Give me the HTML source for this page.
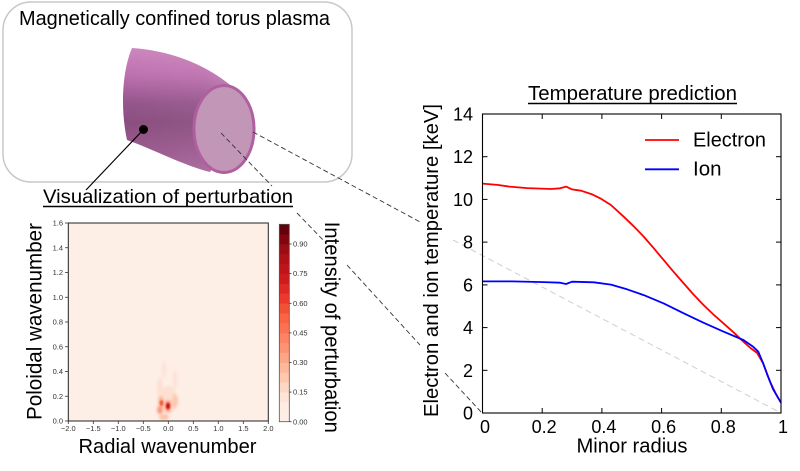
<!DOCTYPE html>
<html><head><meta charset="utf-8"><style>
html,body{margin:0;padding:0;background:#fff;}
svg{display:block;font-family:"Liberation Sans",Arial,sans-serif;}
</style></head><body>
<svg width="800" height="471" viewBox="0 0 800 471" xmlns="http://www.w3.org/2000/svg">
<defs>
<linearGradient id="body" x1="0" y1="48" x2="0" y2="172" gradientUnits="userSpaceOnUse">
<stop offset="0" stop-color="#cc86bd"/>
<stop offset="0.22" stop-color="#bd70ae"/>
<stop offset="0.45" stop-color="#93558a"/>
<stop offset="0.6" stop-color="#8a4e7e"/>
<stop offset="0.85" stop-color="#9c5a8f"/>
<stop offset="1" stop-color="#a8669b"/>
</linearGradient>
<linearGradient id="bodyH" x1="120" y1="0" x2="240" y2="0" gradientUnits="userSpaceOnUse">
<stop offset="0" stop-color="#ffffff" stop-opacity="0"/>
<stop offset="0.7" stop-color="#ffffff" stop-opacity="0.05"/>
<stop offset="1" stop-color="#ffffff" stop-opacity="0.18"/>
</linearGradient>
<filter id="bl" x="-50%" y="-50%" width="200%" height="200%"><feGaussianBlur stdDeviation="1.4"/></filter>
<filter id="bl2" x="-50%" y="-50%" width="200%" height="200%"><feGaussianBlur stdDeviation="0.8"/></filter>
<clipPath id="hm"><rect x="68.3" y="223" width="200" height="198"/></clipPath>
</defs>

<!-- Rounded box -->
<rect x="3" y="2" width="349" height="180" rx="28" ry="28" fill="none" stroke="#c8c8c8" stroke-width="1.5"/>
<text x="19" y="25" font-size="20" textLength="311" lengthAdjust="spacingAndGlyphs">Magnetically confined torus plasma</text>

<!-- Torus -->
<path d="M132,48 C165,50 205,62 236,90 L232,140 L210,172 C185,166 150,148 127,140 C121,112 121,74 132,48 Z" fill="url(#body)"/>
<path d="M132,48 C165,50 205,62 236,90 L232,140 L210,172 C185,166 150,148 127,140 C121,112 121,74 132,48 Z" fill="url(#bodyH)"/>
<ellipse cx="224" cy="129" rx="30" ry="43.5" fill="#c296b7" stroke="#b0609f" stroke-width="3"/>
<circle cx="143.5" cy="129.5" r="4.5" fill="#000"/>
<line x1="143.5" y1="129.5" x2="86" y2="190" stroke="#000" stroke-width="1.2"/>

<!-- dashed connectors -->
<g stroke="#333" stroke-width="0.9" stroke-dasharray="5,3" fill="none">
<line x1="221" y1="133" x2="272" y2="186"/>
<line x1="297" y1="213" x2="325" y2="242"/>
<line x1="347" y1="265" x2="420" y2="345"/>
<line x1="445" y1="373" x2="482" y2="413"/>
<line x1="253" y1="132" x2="422" y2="223"/>
</g>
<line x1="453" y1="240" x2="781" y2="413" stroke="#cfcfcf" stroke-width="1" stroke-dasharray="6,4"/>

<!-- Visualization title -->
<text x="43" y="203" font-size="19.5" textLength="250" lengthAdjust="spacingAndGlyphs">Visualization of perturbation</text>
<line x1="43" y1="206.5" x2="293" y2="206.5" stroke="#000" stroke-width="1.4"/>

<!-- Heatmap -->
<rect x="68.3" y="223" width="200" height="198" fill="#fdeee6"/>
<g clip-path="url(#hm)">
<g filter="url(#bl)">
<ellipse cx="164" cy="370" rx="2" ry="9" fill="#fde3d7"/>
<ellipse cx="175" cy="380" rx="2.5" ry="10" fill="#fde3d7"/>
<ellipse cx="160" cy="388" rx="3" ry="10" fill="#fde0d2"/>
<ellipse cx="168" cy="400" rx="9" ry="14" fill="#fde0d2"/>
<ellipse cx="161" cy="402" rx="3" ry="6" fill="#fcb79d"/>
<ellipse cx="175" cy="401" rx="3" ry="7" fill="#fcc7b1"/>
<ellipse cx="160" cy="410" rx="3" ry="4" fill="#fc9a7a"/>
<ellipse cx="168" cy="406" rx="3.5" ry="6" fill="#fc9272"/>
<ellipse cx="164" cy="417" rx="5" ry="3" fill="#fcc2aa"/>
</g>
<g filter="url(#bl2)">
<ellipse cx="161.5" cy="403" rx="1.8" ry="3" fill="#f4593e"/>
<ellipse cx="168" cy="406" rx="2" ry="3.2" fill="#c8161c"/>
</g>
</g>
<rect x="68.3" y="223" width="200" height="198" fill="none" stroke="#222" stroke-width="1"/>
<g stroke="#333" stroke-width="0.8">
<line x1="65" y1="421" x2="68.3" y2="421"/><line x1="65" y1="396.25" x2="68.3" y2="396.25"/>
<line x1="65" y1="371.5" x2="68.3" y2="371.5"/><line x1="65" y1="346.75" x2="68.3" y2="346.75"/>
<line x1="65" y1="322" x2="68.3" y2="322"/><line x1="65" y1="297.25" x2="68.3" y2="297.25"/>
<line x1="65" y1="272.5" x2="68.3" y2="272.5"/><line x1="65" y1="247.75" x2="68.3" y2="247.75"/>
<line x1="65" y1="223" x2="68.3" y2="223"/>
<line x1="68.3" y1="421" x2="68.3" y2="424"/><line x1="93.3" y1="421" x2="93.3" y2="424"/>
<line x1="118.3" y1="421" x2="118.3" y2="424"/><line x1="143.3" y1="421" x2="143.3" y2="424"/>
<line x1="168.3" y1="421" x2="168.3" y2="424"/><line x1="193.3" y1="421" x2="193.3" y2="424"/>
<line x1="218.3" y1="421" x2="218.3" y2="424"/><line x1="243.3" y1="421" x2="243.3" y2="424"/>
<line x1="268.3" y1="421" x2="268.3" y2="424"/>
</g>
<g font-size="7.5" fill="#333" text-anchor="end">
<text x="63" y="423.6">0.0</text><text x="63" y="398.9">0.2</text><text x="63" y="374.1">0.4</text>
<text x="63" y="349.4">0.6</text><text x="63" y="324.6">0.8</text><text x="63" y="299.9">1.0</text>
<text x="63" y="275.1">1.2</text><text x="63" y="250.4">1.4</text><text x="63" y="225.6">1.6</text>
</g>
<g font-size="7.5" fill="#333" text-anchor="middle">
<text x="68.3" y="431">−2.0</text><text x="93.3" y="431">−1.5</text><text x="118.3" y="431">−1.0</text>
<text x="143.3" y="431">−0.5</text><text x="168.3" y="431">0.0</text><text x="193.3" y="431">0.5</text>
<text x="218.3" y="431">1.0</text><text x="243.3" y="431">1.5</text><text x="268.3" y="431">2.0</text>
</g>
<text transform="translate(41.5,321.5) rotate(-90)" font-size="21" text-anchor="middle" textLength="197" lengthAdjust="spacingAndGlyphs">Poloidal wavenumber</text>
<text x="167.5" y="453" font-size="20" text-anchor="middle" textLength="178" lengthAdjust="spacingAndGlyphs">Radial wavenumber</text>

<!-- Colorbar -->
<g>
<rect x="279.3" y="411.83" width="10" height="10.2" fill="#fdeee6"/>
<rect x="279.3" y="401.96" width="10" height="10.2" fill="#ffece3"/>
<rect x="279.3" y="392.09" width="10" height="10.2" fill="#fee3d7"/>
<rect x="279.3" y="382.22" width="10" height="10.2" fill="#fed6c5"/>
<rect x="279.3" y="372.35" width="10" height="10.2" fill="#fdc8ae"/>
<rect x="279.3" y="362.48" width="10" height="10.2" fill="#fcb79d"/>
<rect x="279.3" y="352.61" width="10" height="10.2" fill="#fca587"/>
<rect x="279.3" y="342.74" width="10" height="10.2" fill="#fc9474"/>
<rect x="279.3" y="332.87" width="10" height="10.2" fill="#fc8363"/>
<rect x="279.3" y="323.00" width="10" height="10.2" fill="#fb7252"/>
<rect x="279.3" y="313.13" width="10" height="10.2" fill="#f86444"/>
<rect x="279.3" y="303.26" width="10" height="10.2" fill="#f35137"/>
<rect x="279.3" y="293.39" width="10" height="10.2" fill="#ed392b"/>
<rect x="279.3" y="283.52" width="10" height="10.2" fill="#dd2a25"/>
<rect x="279.3" y="273.65" width="10" height="10.2" fill="#cd1b1f"/>
<rect x="279.3" y="263.78" width="10" height="10.2" fill="#bf151a"/>
<rect x="279.3" y="253.91" width="10" height="10.2" fill="#af1117"/>
<rect x="279.3" y="244.04" width="10" height="10.2" fill="#9b0d14"/>
<rect x="279.3" y="234.17" width="10" height="10.2" fill="#810610"/>
<rect x="279.3" y="224.3" width="10" height="10.2" fill="#67000d"/>
</g>
<rect x="279.3" y="224.3" width="10" height="197.4" fill="none" stroke="#555" stroke-width="0.8"/>
<g stroke="#333" stroke-width="0.8">
<line x1="289.3" y1="421.7" x2="291.5" y2="421.7"/><line x1="289.3" y1="392.1" x2="291.5" y2="392.1"/>
<line x1="289.3" y1="362.5" x2="291.5" y2="362.5"/><line x1="289.3" y1="332.9" x2="291.5" y2="332.9"/>
<line x1="289.3" y1="303.3" x2="291.5" y2="303.3"/><line x1="289.3" y1="273.6" x2="291.5" y2="273.6"/>
<line x1="289.3" y1="244.0" x2="291.5" y2="244.0"/>
</g>
<g font-size="7.5" fill="#333">
<text x="293" y="424.3">0.00</text><text x="293" y="394.7">0.15</text><text x="293" y="365.1">0.30</text>
<text x="293" y="335.5">0.45</text><text x="293" y="305.9">0.60</text><text x="293" y="276.2">0.75</text>
<text x="293" y="246.6">0.90</text>
</g>
<text transform="translate(325,327.3) rotate(90)" font-size="21" text-anchor="middle" textLength="211" lengthAdjust="spacingAndGlyphs">Intensity of perturbation</text>

<!-- Temperature chart -->
<text x="632.5" y="100" font-size="20" text-anchor="middle" textLength="209" lengthAdjust="spacingAndGlyphs">Temperature prediction</text>
<line x1="528" y1="103.5" x2="737" y2="103.5" stroke="#000" stroke-width="1.4"/>

<polyline fill="none" stroke="#ff0000" stroke-width="1.8" stroke-linejoin="round" points="482.5,183.6 497.4,184.9 509.4,186.6 527.3,188.1 551.2,189.0 560.1,188.3 566.1,186.6 572.05,189.4 581.0,190.7 591.5,194.1 600.4,198.4 610.9,205.0 623.7,216.7 633.7,226.3 643.7,236.6 653.7,248.2 663.7,260.1 673.7,271.9 683.7,283.4 693.5,294.5 703.4,304.9 713.4,314.5 723.4,323.3 733.4,332.2 743.4,341.7 750.5,348.0 757.1,353.0 763.1,363.2 770.0,381.6 776.5,395.1 781,402.7"/>
<polyline fill="none" stroke="#0000ff" stroke-width="1.8" stroke-linejoin="round" points="482.5,281.4 512.35,281.4 544.0,282.1 560.1,282.7 566.1,284.0 572.05,281.7 593.8,282.3 610.9,284.6 627.0,289.3 643.7,295.1 663.7,303.4 683.7,313.3 703.4,322.7 723.4,331.6 743.4,340.0 753.2,346.8 758.3,351.7 763.1,363.2 767,374 770.0,381.6 773,389 776.5,395.1 781,402.7"/>

<rect x="482.5" y="114" width="298.5" height="299" fill="none" stroke="#000" stroke-width="1.1"/>
<g stroke="#000" stroke-width="1">
<line x1="542.2" y1="413" x2="542.2" y2="408"/><line x1="601.9" y1="413" x2="601.9" y2="408"/>
<line x1="661.6" y1="413" x2="661.6" y2="408"/><line x1="721.3" y1="413" x2="721.3" y2="408"/>
<line x1="542.2" y1="114" x2="542.2" y2="119"/><line x1="601.9" y1="114" x2="601.9" y2="119"/>
<line x1="661.6" y1="114" x2="661.6" y2="119"/><line x1="721.3" y1="114" x2="721.3" y2="119"/>
<line x1="482.5" y1="370.3" x2="487.5" y2="370.3"/><line x1="482.5" y1="327.6" x2="487.5" y2="327.6"/>
<line x1="482.5" y1="284.9" x2="487.5" y2="284.9"/><line x1="482.5" y1="242.1" x2="487.5" y2="242.1"/>
<line x1="482.5" y1="199.4" x2="487.5" y2="199.4"/><line x1="482.5" y1="156.7" x2="487.5" y2="156.7"/>
<line x1="781" y1="370.3" x2="776" y2="370.3"/><line x1="781" y1="327.6" x2="776" y2="327.6"/>
<line x1="781" y1="284.9" x2="776" y2="284.9"/><line x1="781" y1="242.1" x2="776" y2="242.1"/>
<line x1="781" y1="199.4" x2="776" y2="199.4"/><line x1="781" y1="156.7" x2="776" y2="156.7"/>
</g>
<g font-size="18" text-anchor="end">
<text x="473" y="419.5">0</text><text x="473" y="376.8">2</text><text x="473" y="334.1">4</text>
<text x="473" y="291.4">6</text><text x="473" y="248.6">8</text><text x="473" y="205.9">10</text>
<text x="473" y="163.2">12</text><text x="473" y="120.5">14</text>
</g>
<g font-size="18" text-anchor="middle">
<text x="485" y="433">0</text><text x="544.2" y="433">0.2</text><text x="603.9" y="433">0.4</text>
<text x="663.6" y="433">0.6</text><text x="723.3" y="433">0.8</text><text x="783" y="433">1</text>
</g>
<text x="632" y="452.5" font-size="20" text-anchor="middle" textLength="111" lengthAdjust="spacingAndGlyphs">Minor radius</text>
<text transform="translate(438,260.5) rotate(-90)" font-size="20" text-anchor="middle" textLength="313" lengthAdjust="spacingAndGlyphs">Electron and ion temperature [keV]</text>

<!-- Legend -->
<line x1="645" y1="140" x2="679" y2="140" stroke="#ff0000" stroke-width="1.8"/>
<text x="693" y="146.7" font-size="20.5" textLength="73" lengthAdjust="spacingAndGlyphs">Electron</text>
<line x1="645" y1="169.3" x2="679" y2="169.3" stroke="#0000ff" stroke-width="1.8"/>
<text x="693" y="175.7" font-size="20.5">Ion</text>
</svg>
</body></html>
